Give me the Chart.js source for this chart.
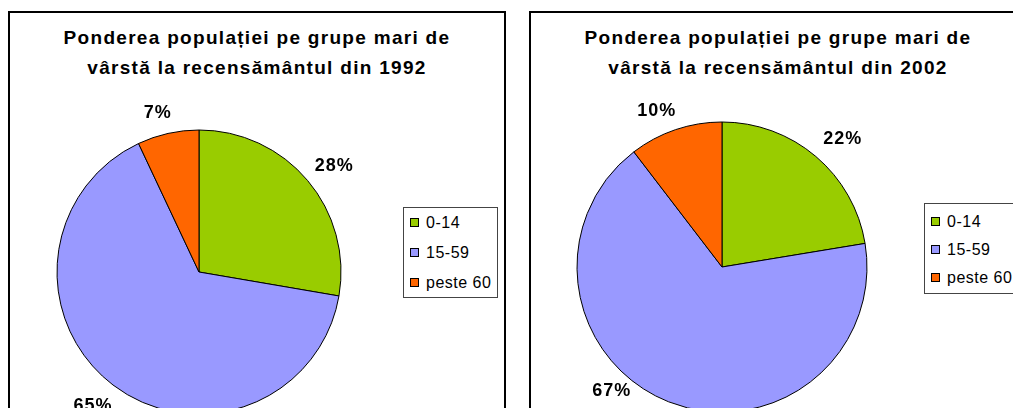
<!DOCTYPE html>
<html>
<head>
<meta charset="utf-8">
<script src="https://cdn.jsdelivr.net/npm/chart.js@4"></script>
<style>
  html, body { margin: 0; padding: 0; background: #fff; overflow: hidden; width: 1013px; height: 408px; }
  .box { position: absolute; top: 11px; width: 498px; height: 440px; border: 2px solid #000; box-sizing: border-box; }
  .title { position: absolute; top: 23px; text-align: center; font: bold 19px "Liberation Sans", Arial, sans-serif;
           line-height: 30px; letter-spacing: 1.3px; color: #000; white-space: nowrap; }
  canvas { position: absolute; top: 0; }
  .legend { position: absolute; width: 95px; height: 91px; border: 1px solid #444; box-sizing: border-box; background: #fff;
            font: 16px "Liberation Sans", Arial, sans-serif; letter-spacing: 0.5px; color: #000; }
  .legend .row { position: absolute; left: 6px; height: 20px; line-height: 20px; white-space: nowrap; }
  .legend .sw { display: inline-block; width: 7px; height: 7px; border: 1px solid #000; margin-right: 7px; vertical-align: 1px; }
</style>
</head>
<body>
<div class="box" style="left:8px"></div>
<div class="box" style="left:529px"></div>
<div class="title" id="t1" style="left:8px;width:498px"></div>
<div class="title" id="t2" style="left:529px;width:498px"></div>
<canvas id="c1" width="520" height="440" style="left:0"></canvas>
<canvas id="c2" width="493" height="440" style="left:520px"></canvas>
<div class="legend" id="l1" style="left:403px;top:207px"></div>
<div class="legend" id="l2" style="left:924px;top:203px"></div>

<script>
const GROUPS = ['0-14', '15-59', 'peste 60']
const COLORS = ['#99CC00', '#9999FF', '#FF6600']

const TITLE_1992 = ['Ponderea populației pe grupe mari de', 'vârstă la recensământul din 1992']
const TITLE_2002 = ['Ponderea populației pe grupe mari de', 'vârstă la recensământul din 2002']

// ponderea (%) pe grupe de vârstă
const SHARE_1992 = [27.7, 65.3, 7.0]
const SHARE_2002 = [22.4, 67.2, 10.4]

// puts the pie at a given centre / radius inside the canvas
function padFor(cx, cy, r, w, h) {
  const s = 2 * r + 1
  const left = cx - s / 2, top = cy - s / 2
  return { left, top, right: w - left - s, bottom: h - top - s }
}

const pctLabels = {
  id: 'pctLabels',
  afterDatasetsDraw(chart, args, opts) {
    const ctx = chart.ctx
    const meta = chart.getDatasetMeta(0)
    const data = chart.data.datasets[0].data
    ctx.save()
    ctx.font = 'bold 18px "Liberation Sans", Arial, sans-serif'
    if ('letterSpacing' in ctx) ctx.letterSpacing = '1px'
    ctx.fillStyle = '#000'
    ctx.textAlign = 'center'
    ctx.textBaseline = 'middle'
    meta.data.forEach((arc, i) => {
      const p = arc.getProps(['x', 'y', 'startAngle', 'endAngle', 'outerRadius'], true)
      const a = (p.startAngle + p.endAngle) / 2 + (opts.nudge[i] || 0) * Math.PI / 180
      const d = p.outerRadius + opts.dist[i]
      ctx.fillText(Math.round(data[i]) + '%', p.x + Math.cos(a) * d, p.y + Math.sin(a) * d)
    })
    ctx.restore()
  }
}

function makePie(id, values, pad, nudge, dist) {
  return new Chart(document.getElementById(id), {
    type: 'pie',
    data: {
      labels: GROUPS,
      datasets: [{
        data: values,
        backgroundColor: COLORS,
        borderColor: '#000',
        borderWidth: 1,
        hoverOffset: 0,
      }]
    },
    options: {
      responsive: false,
      animation: false,
      layout: { padding: pad },
      plugins: {
        legend: { display: false },
        tooltip: { enabled: false },
        pctLabels: { nudge, dist },
      },
    },
    plugins: [pctLabels],
  })
}

function fillTitle(id, lines) {
  document.getElementById(id).innerHTML = lines.map(l => `<div>${l}</div>`).join('')
}

function fillLegend(id, top, gap) {
  document.getElementById(id).innerHTML = GROUPS.map((g, i) =>
    `<div class="row" style="top:${top + i * gap}px"><span class="sw" style="background:${COLORS[i]}"></span>${g}</div>`
  ).join('')
}

fillTitle('t1', TITLE_1992)
fillTitle('t2', TITLE_2002)
fillLegend('l1', 5, 30)
fillLegend('l2', 8, 28)

makePie('c1', SHARE_1992, padFor(199, 272, 142, 520, 440), [2, 1, -2], [30, 29, 22])
makePie('c2', SHARE_2002, padFor(202, 267, 145, 493, 440), [3, 20, -4], [31, 21, 24])
</script>
</body>
</html>
